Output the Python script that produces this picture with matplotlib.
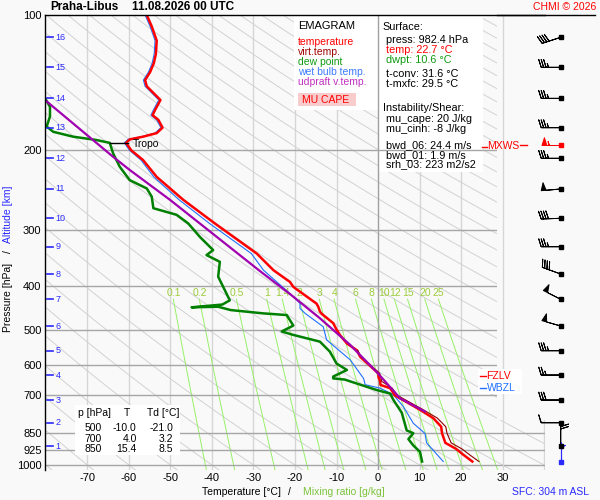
import numpy as np
import matplotlib
matplotlib.use('Agg')
import matplotlib.pyplot as plt
from matplotlib.patches import Rectangle
from matplotlib.lines import Line2D
from matplotlib.ticker import NullLocator, NullFormatter

plt.rcParams['font.family'] = ['Liberation Sans', 'DejaVu Sans']
plt.rcParams['axes.unicode_minus'] = False

# ---- sounding values ----
temp_p = [100, 106, 114, 122, 128, 134, 139.5, 144, 149, 154.5,
          162.6, 167, 171, 178, 183, 186.4, 189, 192.4, 200, 210,
          229, 257.5, 291, 339, 369, 392, 402, 438, 445, 456,
          461, 484, 500, 514, 537, 556, 575, 626, 637, 652,
          664, 675, 690, 700, 711, 753, 787, 822, 850, 893,
          921, 950, 982.4]
temp_t = [-55.7, -54.5, -53.3, -53.5, -54.0, -54.9, -56.1, -55.7, -54.1, -52.4,
          -53.7, -54.3, -52.9, -51.9, -53.3, -56.6, -59.8, -60.7, -59.4, -56.6,
          -53.3, -46.9, -39.2, -29.2, -25.2, -21.2, -20.4, -14.8, -14.4, -14.0,
          -13.6, -10.8, -10.0, -9.2, -7.5, -5.1, -4.3, 0.1, 0.1, 0.5,
          0.6, 2.9, 3.6, 4.0, 5.3, 10.0, 13.3, 15.2, 15.4, 16.2,
          18.8, 20.6, 22.7]

tv_p = [556, 575, 626, 652, 675, 700, 711, 753, 787, 822, 850, 893, 921, 950, 982.4]
tv_t = [-4.9, -4.1, 0.4, 0.9, 3.4, 4.6, 5.9, 10.8, 14.3, 16.3, 16.6, 17.6, 20.2, 22.1, 24.3]

dp_p = [145, 153, 160, 168, 177, 181.8, 186.4, 189.6, 192.4, 203,
        217.4, 232.8, 242.9, 253.3, 268.8, 278, 290.6, 311.3, 322, 333,
        341.6, 353.6, 381.5, 416, 430.6, 440, 446.3, 445, 452.6, 460.3,
        464.3, 490, 505, 514, 532, 560, 595, 615, 636, 642,
        646, 652, 681.5, 694, 717, 765, 838, 850, 876, 905,
        935, 982.4]
dp_t = [-84, -80.2, -79.0, -79.0, -79.8, -78.2, -73.4, -67.8, -64.6, -63.8,
        -62.2, -59.8, -55.7, -54.5, -54.1, -48.5, -45.7, -42.9, -41.3, -39.7,
        -41.3, -38.1, -38.5, -36.5, -35.7, -37.5, -44.9, -38.5, -35.5, -27.7,
        -22.0, -20.4, -23.2, -20.4, -14.0, -11.6, -10.0, -7.5, -10.8, -10.8,
        -8.0, -6.7, -0.3, 2.9, 3.7, 5.7, 6.9, 8.5, 7.3, 8.5,
        10.1, 10.6]

wb_p = [100, 106, 114, 122, 128, 134, 139.5, 144, 149, 154.5,
        162.6, 167, 171, 178, 183, 186.4, 189, 192.4, 200, 210,
        229, 257.5, 291, 339, 369, 416, 437, 449, 460, 493,
        527, 584, 642, 663, 675, 698, 742, 808, 851, 893,
        982.4]
wb_t = [-56.1, -54.9, -53.7, -53.9, -54.4, -55.3, -56.5, -56.1, -54.5, -52.8,
        -54.1, -54.7, -53.3, -52.3, -53.7, -57.0, -60.2, -61.1, -59.8, -57.1,
        -54.0, -47.9, -40.5, -30.5, -27.6, -21.2, -18.8, -18.8, -17.6, -13.2,
        -12.4, -6.7, -3.5, -3.1, 0.5, 3.7, 6.1, 8.5, 11.3, 11.7,
        15.7]

# MU parcel (updraft virtual temperature)
pc_p = [150, 154.5, 206.6, 221, 257.5, 371, 417, 472, 541, 626, 711, 761]
pc_t = [-81.5, -80.2, -63.8, -59.8, -50.1, -28.4, -21.2, -14.0, -6.7, 0.0, 5.3, 11.3]

# altitude marks (km) and their pressure
alt_km = [16, 15, 14, 13, 12, 11, 10, 9, 8, 7, 6, 5, 4, 3, 2, 1]
alt_p = [112.1, 130.7, 153.2, 178.0, 208.2, 243.6, 283.0, 327.3,
         376.4, 428.4, 491.1, 557.3, 631.1, 717.2, 805.6, 907.7]

# winds at the altitude marks (direction deg, speed kt)
wind_dir = [252, 270, 270, 270, 270, 265, 268, 270, 290, 297, 286, 270, 270, 270, 270, 360]
wind_spd = [40, 35, 35, 35, 35, 50, 40, 35, 40, 50, 50, 35, 25, 30, 10, 20]
mxws_p, mxws_dir, mxws_spd = 194.5, 270, 55
sfc_p, sfc_dir, sfc_spd = 982.4, 360, 5

tropo_p = 192.4

p_ticks = [100, 200, 300, 400, 500, 600, 700, 850, 925, 1000]
t_ticks = [-70, -60, -50, -40, -30, -20, -10, 0, 10, 20, 30]

mix_w = [0.1, 0.2, 0.5, 1, 1.4, 2, 3, 4, 6, 8, 10, 12, 15, 20, 25]
mix_lbl = ['0.1', '0.2', '0.5', '1', '1.4', '2', '3', '4', '6', '8', '10', '12', '15', '20', '25']
theta_c = np.arange(-80, 331, 10)

tab_p = [500, 700, 850]
tab_t = [-10.0, 4.0, 15.4]
tab_td = [-21.0, 3.2, 8.5]

# ---- figure ----
BG = '#f9f9f9'
RED = '#ff0000'
GREEN = '#109a10'
BLUE = '#2a2aff'

fig = plt.figure(figsize=(6, 5), dpi=100, facecolor=BG)


def fx(x):
    return x / 600


def fy(y):
    return 1 - y / 500


ax = fig.add_axes([fx(45), fy(470), 500 / 600, 455 / 500])
ax.set_facecolor(BG)
ax.set_yscale('log')
ax.set_ylim(1026, 100)
ax.set_xlim(-80.2, 40.2)
for s in ['right', 'bottom']:
    ax.spines[s].set_visible(False)
for s in ['left', 'top']:
    ax.spines[s].set_linewidth(1)
    ax.spines[s].set_zorder(6)
ax.set_xticks(t_ticks)
ax.set_xticklabels([str(t) for t in t_ticks])
ax.set_yticks(p_ticks)
ax.set_yticklabels([str(p) for p in p_ticks])
ax.yaxis.set_minor_locator(NullLocator())
ax.yaxis.set_minor_formatter(NullFormatter())
ax.tick_params(axis='x', length=0, labelsize=8, pad=2)
ax.tick_params(axis='y', length=0, labelsize=8, pad=2.5)

# isotherms
for t in range(-70, 41, 10):
    if t == 0:
        ax.axvline(t, color='#a0a0a0', lw=1, zorder=2)
    elif t == 30:
        ax.axvline(t, color='#d6d6d6', lw=1, zorder=2.6)
    else:
        ax.axvline(t, color='#d6d6d6', lw=1, zorder=1)
# isobars
for p in p_ticks[1:]:
    ax.axhline(p, color='#a6a6a6', lw=1, zorder=2)

# dry adiabats
pp = np.geomspace(100, 1030, 80)
for th in theta_c:
    ax.plot((th + 273.15) * (pp / 1000) ** 0.2857 - 273.15, pp,
            color='#d2d2d2', lw=0.7, zorder=1)

# mixing ratio lines
pm = np.geomspace(428, 1030, 40)
for w, lbl in zip(mix_w, mix_lbl):
    a = np.log(w * pm / (622 + w) / 6.112)
    ax.plot(243.5 * a / (17.67 - a), pm, color='#98f068', lw=0.7, zorder=1.2)
    a0 = np.log(w * 430 / (622 + w) / 6.112)
    ax.text(243.5 * a0 / (17.67 - a0), 414.8, lbl, color='#9ccc3c',
            fontsize=7.5, ha='center', va='center', zorder=2)

# cover for the wind panel, and white boxes
ax.add_patch(Rectangle((fx(497), fy(420)), 103 / 600, 405 / 500, transform=fig.transFigure,
                       fc=BG, ec='none', zorder=2.5))
ax.add_patch(Rectangle((fx(294), fy(110)), 83.5 / 600, 94 / 500, transform=fig.transFigure,
                       fc='white', ec='none', zorder=1.5))
ax.add_patch(Rectangle((fx(378.5), fy(172)), 104.5 / 600, 156 / 500, transform=fig.transFigure,
                       fc='white', ec='none', zorder=1.5))
ax.add_patch(Rectangle((fx(75), fy(455)), 105 / 600, 50 / 500, transform=fig.transFigure,
                       fc='white', ec='none', zorder=2.1))
ax.add_patch(Rectangle((fx(298.3), fy(106)), 57.4 / 600, 12.7 / 500, transform=fig.transFigure,
                       fc='#f8cccc', ec='none', zorder=2.2))

# profiles
ax.plot(wb_t, wb_p, color='#2070ff', lw=0.8, zorder=3.0)
ax.plot(temp_t, temp_p, color=RED, lw=1.8, zorder=3.1)
ax.plot(tv_t, tv_p, color='#8b0000', lw=0.8, zorder=3.2)
ax.plot(dp_t, dp_p, color='#008000', lw=1.8, zorder=3.3)
ax.plot(pc_t, pc_p, color='#a000b0', lw=1.6, zorder=3.4)

# tropopause
ax.plot([-64.6, -60.2], [tropo_p, tropo_p], color='k', lw=1, zorder=4)
ax.text(-59.0, 193.6, 'Tropo', fontsize=7.5, va='center', zorder=4)

# altitude marks
for km, p in zip(alt_km, alt_p):
    ax.plot([-79.7, -78.2], [p, p], color=BLUE, lw=1.2, zorder=4)
    ax.text(-77.6, p, str(km), color=BLUE, fontsize=6.5, va='center', zorder=4)

# ---- wind barbs ----
bax = fig.add_axes([fx(497), fy(470), 98 / 600, 455 / 500], zorder=3)
bax.patch.set_alpha(0)
bax.set_yscale('log')
bax.set_ylim(1026, 100)
bax.set_xlim(0, 98)
for s in ['left', 'right', 'bottom']:
    bax.spines[s].set_visible(False)
bax.spines['top'].set_linewidth(1)
bax.set_xticks([])
bax.set_yticks([])
bax.yaxis.set_minor_locator(NullLocator())
bax.yaxis.set_minor_formatter(NullFormatter())

bx = 63.7


def uv(d, s):
    r = np.radians(np.array(d, dtype=float))
    s = np.array(s, dtype=float)
    return -s * np.sin(r), -s * np.cos(r)


u, v = uv(wind_dir, wind_spd)
bax.barbs(np.full(len(alt_p), bx), alt_p, u, v, length=5.3, lw=0.7, color='k', clip_on=False)
bax.plot(np.full(len(alt_p), bx), alt_p, 's', color='k', ms=2.4, clip_on=False)
u, v = uv([mxws_dir], [mxws_spd])
bax.barbs([bx], [mxws_p], u, v, length=5.3, lw=0.7, color=RED, clip_on=False)
bax.plot([bx], [mxws_p], 's', color=RED, ms=2.4, clip_on=False)
u, v = uv([sfc_dir], [sfc_spd])
bax.barbs([bx], [sfc_p], u, v, length=5.3, lw=0.8, color=BLUE, clip_on=False)
bax.plot([bx], [sfc_p], 's', color=BLUE, ms=2.4, clip_on=False)
bax.plot([-15, -10], [196.2, 196.2], color=RED, lw=1, clip_on=False)
bax.plot([23, 30], [mxws_p, mxws_p], color=RED, lw=1, clip_on=False)
fig.text(fx(487), fy(146), 'MXWS', color=RED, fontsize=7.5, va='center', zorder=10)

# freezing / wet bulb zero levels
fig.add_artist(Rectangle((fx(478), fy(394)), 44 / 600, 25 / 500, transform=fig.transFigure,
                         fc='white', ec='none', zorder=9))
fig.add_artist(Line2D([fx(480), fx(486)], [fy(376), fy(376)], color=RED, lw=1, zorder=10))
fig.add_artist(Line2D([fx(480), fx(486)], [fy(388), fy(388)], color='#2070ff', lw=1, zorder=10))
fig.text(fx(486.5), fy(376), 'FZLV', color=RED, fontsize=7.5, va='center', zorder=10)
fig.text(fx(486.5), fy(388), 'WBZL', color='#2070ff', fontsize=7.5, va='center', zorder=10)

# ---- texts ----
fig.text(fx(50), fy(7.5), 'Praha-Libus', fontsize=8.5, fontweight='bold', va='center')
fig.text(fx(131.7), fy(7.5), '11.08.2026 00 UTC', fontsize=8.5, fontweight='bold', va='center')
fig.text(fx(596), fy(6.7), 'CHMI © 2026', fontsize=7.5, color=RED, ha='right', va='center')

fig.text(fx(298.3), fy(26), 'EMAGRAM', fontsize=8, va='center', zorder=10)
leg = [('temperature', RED), ('virt.temp.', '#a00000'), ('dew point', GREEN),
       ('wet bulb temp.', '#3b7bff'), ('udpraft v.temp.', '#c030c0')]
for i, (txt, c) in enumerate(leg):
    fig.text(fx(298.3), fy(42.3 + i * 9.85), txt, fontsize=7.5, color=c, va='center', zorder=10)
fig.text(fx(326), fy(100), 'MU CAPE', fontsize=7.5, color=RED, ha='center', va='center', zorder=10)

info = [('Surface:', 382.7, 27.3, 'k'),
        ('press: 982.4 hPa', 386, 40, 'k'),
        ('temp: 22.7 °C', 386, 50, RED),
        ('dwpt: 10.6 °C', 386, 60, GREEN),
        ('t-conv: 31.6 °C', 386, 74, 'k'),
        ('t-mxfc: 29.5 °C', 386, 84.3, 'k'),
        ('Instability/Shear:', 382.7, 108.3, 'k'),
        ('mu_cape: 20 J/kg', 386, 119.3, 'k'),
        ('mu_cinh: -8 J/kg', 386, 129.3, 'k'),
        ('bwd_06: 24.4 m/s', 386, 145, 'k'),
        ('bwd_01: 1.9 m/s', 386, 155, 'k'),
        ('srh_03: 223 m2/s2', 386, 164.3, 'k')]
for txt, x, y, c in info:
    fig.text(fx(x), fy(y), txt, fontsize=7.8, color=c, va='center', zorder=10)

# table
fig.text(fx(78), fy(413.3), 'p [hPa]', fontsize=7.5, va='center', zorder=10)
fig.text(fx(127), fy(413.3), 'T', fontsize=7.5, ha='center', va='center', zorder=10)
fig.text(fx(147), fy(413.3), 'Td [°C]', fontsize=7.5, va='center', zorder=10)
for i, (p, t, td) in enumerate(zip(tab_p, tab_t, tab_td)):
    y = 428.3 + i * 10.4
    fig.text(fx(102), fy(y), str(p), fontsize=7.5, ha='right', va='center', zorder=10)
    fig.text(fx(136.7), fy(y), f'{t:.1f}', fontsize=7.5, ha='right', va='center', zorder=10)
    fig.text(fx(173.3), fy(y), f'{td:.1f}', fontsize=7.5, ha='right', va='center', zorder=10)

# axis titles
fig.text(fx(281), fy(492), 'Temperature [°C]', fontsize=7.5, ha='right', va='center')
fig.text(fx(289), fy(492), '/', fontsize=7.5, ha='center', va='center')
fig.text(fx(303), fy(492), 'Mixing ratio [g/kg]', fontsize=7.5, color='#7cc43c', va='center')
fig.text(fx(512), fy(491.7), 'SFC: 304 m ASL', fontsize=7.5, color=BLUE, va='center')

fig.text(fx(8), fy(297.5), 'Pressure [hPa]', fontsize=7.5, rotation=90, ha='center', va='center')
fig.text(fx(8), fy(252), '/', fontsize=7.5, rotation=90, ha='center', va='center')
fig.text(fx(8), fy(214.5), 'Altitude [km]', fontsize=7.5, color=BLUE, rotation=90,
         ha='center', va='center')

fig.savefig('out.png', dpi=100, facecolor=BG)
